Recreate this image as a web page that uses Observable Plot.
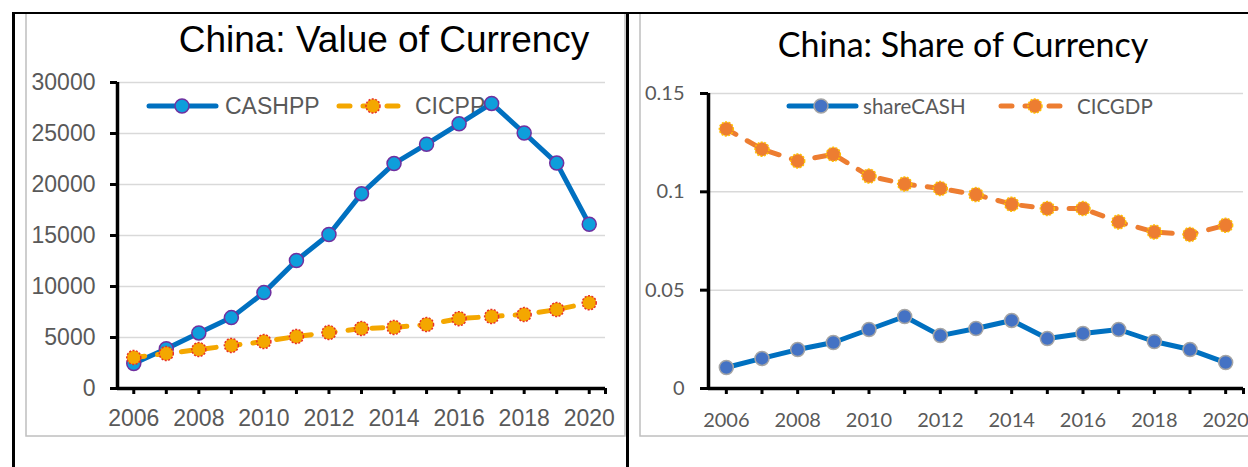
<!DOCTYPE html>
<html>
<head>
<meta charset="utf-8">
<script src="https://cdn.jsdelivr.net/npm/d3@7"></script>
<script src="https://cdn.jsdelivr.net/npm/@observablehq/plot@0.6"></script>
<style>
  html, body { margin: 0; padding: 0; background: #fff; }
  #wrap { position: relative; width: 1248px; height: 467px; overflow: hidden; background: #fff; }
  #wrap > svg { position: absolute; }
</style>
</head>
<body>
<div id="wrap"></div>
<script>
// ---------- data ----------
const years = [2006, 2007, 2008, 2009, 2010, 2011, 2012, 2013, 2014, 2015, 2016, 2017, 2018, 2019, 2020];
const cashpp = [2450, 3900, 5450, 6950, 9400, 12550, 15100, 19100, 22050, 23950, 25950, 27950, 25050, 22100, 16100];
const cicpp  = [3040, 3430, 3820, 4220, 4600, 5100, 5490, 5880, 5990, 6270, 6850, 7060, 7250, 7740, 8400];
const shareCASH = [0.0107, 0.0153, 0.0198, 0.0234, 0.0300, 0.0366, 0.0269, 0.0305, 0.0346, 0.0254, 0.0280, 0.0300, 0.0239, 0.0198, 0.0132];
const cicgdp    = [0.1320, 0.1217, 0.1157, 0.1191, 0.1080, 0.1040, 0.1017, 0.0986, 0.0937, 0.0915, 0.0915, 0.0847, 0.0796, 0.0783, 0.0830];
const leftYTicks = [0, 5000, 10000, 15000, 20000, 25000, 30000];
const rightYTicks = [0, 0.05, 0.1, 0.15];
const rightYLabels = ["0", "0.05", "0.1", "0.15"];
const leftTitle = "China: Value of Currency";
const rightTitle = "China: Share of Currency";
const leftSeries = ["CASHPP", "CICPP"];
const rightSeries = ["shareCASH", "CICGDP"];

const leftData = years.map((y, i) => ({year: y, CASHPP: cashpp[i], CICPP: cicpp[i]}));
const rightData = years.map((y, i) => ({year: y, shareCASH: shareCASH[i], CICGDP: cicgdp[i]}));
const xTicks = [...years, 2020.5];

const wrap = document.getElementById("wrap");
const NS = "http://www.w3.org/2000/svg";

// ---------- background: frames, titles, legends ----------
const bg = d3.create("svg").attr("width", 1248).attr("height", 467).style("left", "0px").style("top", "0px");
// gray chart-area boxes
bg.append("rect").attr("x", 26).attr("y", 13).attr("width", 599).attr("height", 423)
  .attr("fill", "none").attr("stroke", "#BFBFBF").attr("stroke-width", 1.5);
bg.append("rect").attr("x", 640).attr("y", 13).attr("width", 640).attr("height", 423)
  .attr("fill", "none").attr("stroke", "#BFBFBF").attr("stroke-width", 1.5);
// black outer lines
bg.append("line").attr("x1", 12).attr("x2", 1248).attr("y1", 13).attr("y2", 13).attr("stroke", "#000").attr("stroke-width", 2);
bg.append("line").attr("x1", 13.5).attr("x2", 13.5).attr("y1", 12).attr("y2", 467).attr("stroke", "#000").attr("stroke-width", 3);
bg.append("line").attr("x1", 627.5).attr("x2", 627.5).attr("y1", 12).attr("y2", 467).attr("stroke", "#000").attr("stroke-width", 3);
// titles
bg.append("text").attr("x", 384).attr("y", 52).attr("text-anchor", "middle")
  .attr("font-family", "'Liberation Sans', Arial, sans-serif").attr("font-size", 37).attr("fill", "#000").text(leftTitle);
bg.append("text").attr("x", 963).attr("y", 57).attr("text-anchor", "middle")
  .attr("font-family", "Lato, sans-serif").attr("font-size", 34).attr("fill", "#000").text(rightTitle);

function legendItem(g, x0, x1, cx, y, label, tx, opt) {
  g.append("line").attr("x1", x0).attr("x2", x1).attr("y1", y).attr("y2", y)
    .attr("stroke", opt.line).attr("stroke-width", 5).attr("stroke-linecap", "round")
    .attr("stroke-dasharray", opt.dash || null);
  g.append("circle").attr("cx", cx).attr("cy", y).attr("r", 7)
    .attr("fill", opt.fill).attr("stroke", opt.mstroke).attr("stroke-width", 1.5)
    .attr("stroke-dasharray", opt.mdash || null);
  g.append("text").attr("x", tx).attr("y", y).attr("dominant-baseline", "central")
    .attr("font-family", opt.font).attr("font-size", opt.size).attr("fill", "#595959").text(label);
}
const leftFont = "'Liberation Sans', Arial, sans-serif";
const rightFont = "Lato, sans-serif";
legendItem(bg, 149, 216, 182, 106, leftSeries[0], 225, {line: "#0070C0", fill: "#0E9EDB", mstroke: "#7030A0", font: leftFont, size: 23});
legendItem(bg, 339, 400, 373, 106, leftSeries[1], 415, {line: "#F4A700", dash: "11,13", fill: "#F4A700", mstroke: "#E8302A", mdash: "2,1.5", font: leftFont, size: 23});
legendItem(bg, 789, 856, 821, 106, rightSeries[0], 863, {line: "#0070C0", fill: "#4472C4", mstroke: "#A5A5A5", font: rightFont, size: 20.5});
legendItem(bg, 1001, 1063, 1035, 106, rightSeries[1], 1077, {line: "#ED7D31", dash: "11,13", fill: "#ED7D31", mstroke: "#FFC000", mdash: "2,1.5", font: rightFont, size: 20.5});
wrap.appendChild(bg.node());

// ---------- left chart ----------
const left = Plot.plot({
  width: 626, height: 467,
  marginLeft: 117, marginRight: 21, marginTop: 82, marginBottom: 79,
  x: {domain: [2005.5, 2020.5]},
  y: {domain: [0, 30000]},
  style: {background: "transparent", overflow: "visible", fontFamily: leftFont},
  marks: [
    Plot.ruleY(leftYTicks.filter(d => d > 0), {stroke: "#D9D9D9", strokeWidth: 1.5}),
    Plot.axisY({ticks: leftYTicks, tickSize: 7, tickPadding: 15, stroke: "#000", strokeWidth: 3,
      fill: "#595959", fontSize: 23, label: null, tickFormat: d => String(d)}),
    Plot.axisX({ticks: xTicks, tickSize: 6, tickPadding: 15, stroke: "#000", strokeWidth: 3,
      fill: "#595959", fontSize: 23, label: null,
      tickFormat: d => (Number.isInteger(d) && d % 2 === 0) ? String(d) : ""}),
    Plot.ruleX([2005.5], {stroke: "#000", strokeWidth: 3.5}),
    Plot.ruleY([0], {stroke: "#000", strokeWidth: 3.5}),
    Plot.line(leftData, {x: "year", y: "CASHPP", stroke: "#0070C0", strokeWidth: 5, strokeLinejoin: "round"}),
    Plot.dot(leftData, {x: "year", y: "CASHPP", r: 7, fill: "#0E9EDB", stroke: "#7030A0", strokeWidth: 1.5}),
    Plot.line(leftData, {x: "year", y: "CICPP", stroke: "#F4A700", strokeWidth: 5, strokeDasharray: "11,13", strokeLinecap: "round"}),
    Plot.dot(leftData, {x: "year", y: "CICPP", r: 7, fill: "#F4A700", stroke: "#E8302A", strokeWidth: 1.5, strokeDasharray: "2,1.5"})
  ]
});
left.style.left = "0px"; left.style.top = "0px";
wrap.appendChild(left);

// ---------- right chart ----------
const right = Plot.plot({
  width: 620, height: 467,
  marginLeft: 80, marginRight: 5, marginTop: 93, marginBottom: 79,
  x: {domain: [2005.5, 2020.5]},
  y: {domain: [0, 0.15]},
  style: {background: "transparent", overflow: "visible", fontFamily: rightFont},
  marks: [
    Plot.ruleY(rightYTicks.filter(d => d > 0), {stroke: "#D9D9D9", strokeWidth: 1.5}),
    Plot.axisY({ticks: rightYTicks, tickSize: 8, tickPadding: 16, stroke: "#000", strokeWidth: 3,
      fill: "#595959", fontSize: 20, label: null,
      tickFormat: d => rightYLabels[rightYTicks.findIndex(t => Math.abs(t - d) < 1e-9)]}),
    Plot.axisX({ticks: xTicks, tickSize: 6, tickPadding: 18, stroke: "#000", strokeWidth: 3,
      fill: "#595959", fontSize: 20, label: null,
      tickFormat: d => (Number.isInteger(d) && d % 2 === 0) ? String(d) : ""}),
    Plot.ruleX([2005.5], {stroke: "#000", strokeWidth: 3.5}),
    Plot.ruleY([0], {stroke: "#000", strokeWidth: 3.5}),
    Plot.line(rightData, {x: "year", y: "shareCASH", stroke: "#0070C0", strokeWidth: 5, strokeLinejoin: "round"}),
    Plot.dot(rightData, {x: "year", y: "shareCASH", r: 7, fill: "#4472C4", stroke: "#A5A5A5", strokeWidth: 1.5}),
    Plot.line(rightData, {x: "year", y: "CICGDP", stroke: "#ED7D31", strokeWidth: 5, strokeDasharray: "11,13", strokeLinecap: "round"}),
    Plot.dot(rightData, {x: "year", y: "CICGDP", r: 7, fill: "#ED7D31", stroke: "#FFC000", strokeWidth: 1.5, strokeDasharray: "2,1.5"})
  ]
});
right.style.left = "628px"; right.style.top = "0px";
wrap.appendChild(right);
</script>
</body>
</html>
